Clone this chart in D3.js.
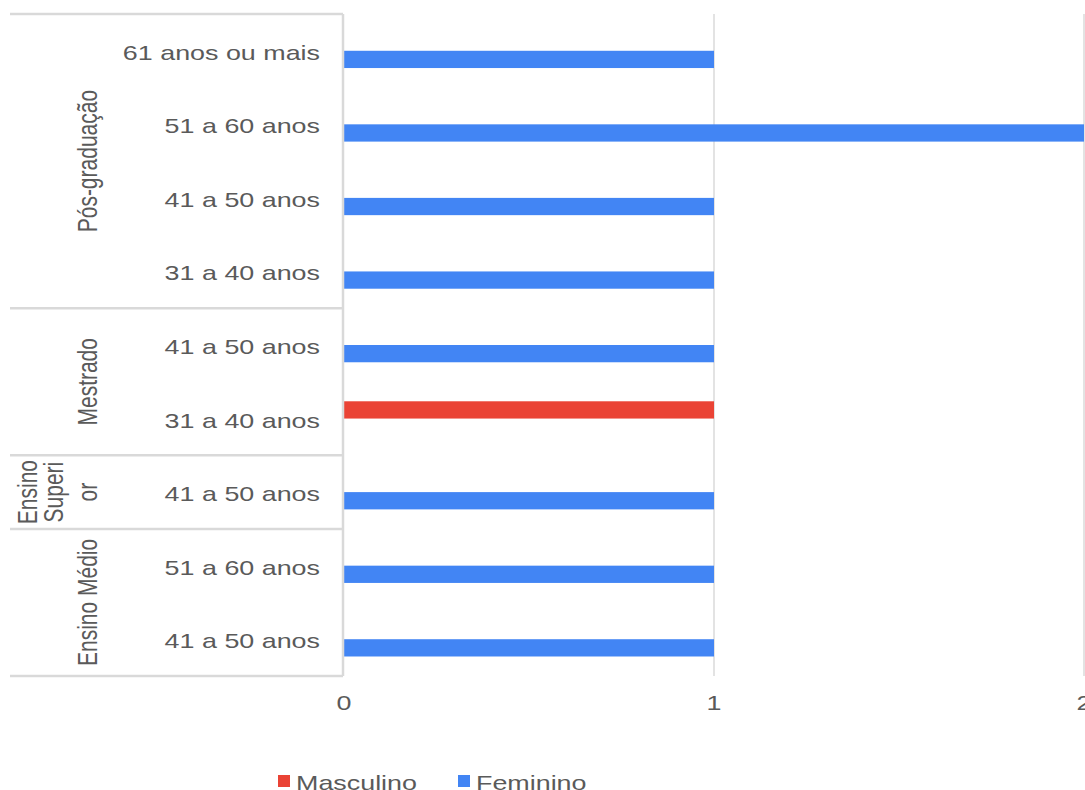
<!DOCTYPE html>
<html>
<head>
<meta charset="utf-8">
<script src="https://cdn.jsdelivr.net/npm/d3@7"></script>
<style>
body{margin:0;background:#fff;}
text{font-family:Arial,"Liberation Sans",sans-serif;fill:#5a5a5a;}
</style>
</head>
<body>
<div class="box"></div>
<script>
// data
const series=['Masculino','Feminino'];
const colors=['#ea4335','#4285f4'];
const groups=['Pós-graduação','Mestrado','Ensino Superior','Ensino Médio'];
const groupOf=['Pós-graduação','Pós-graduação','Pós-graduação','Pós-graduação','Mestrado','Mestrado','Ensino Superior','Ensino Médio','Ensino Médio'];
const ageLabels=['61 anos ou mais','51 a 60 anos','41 a 50 anos','31 a 40 anos','41 a 50 anos','31 a 40 anos','41 a 50 anos','51 a 60 anos','41 a 50 anos'];
const masculino=[0,0,0,0,0,1,0,0,0];
const feminino=[1,2,1,1,1,0,1,1,1];
const xTicks=[0,1,2];
const groupLines={'Ensino Superior':['Ensino','Superi','or']};

const W=1085,H=790;
const SX=1.28; // the picture is stretched sideways
const svg=d3.select('.box').append('svg').attr('width',W).attr('height',H);

const pTop=14,pBottom=676,pLeft=344,pRight=1084;
const rows=d3.range(ageLabels.length);
const y=d3.scaleBand().domain(rows).range([pTop,pBottom]);
const inner=d3.scaleBand().domain(series).range([0,y.bandwidth()]).paddingOuter(1.13);
const x=d3.scaleLinear().domain([0,2]).range([pLeft,pRight]);

// grid
svg.append('g').selectAll('line').data(xTicks.filter(t=>t>0)).enter().append('line')
  .attr('x1',d=>x(d)).attr('x2',d=>x(d)).attr('y1',pTop).attr('y2',pBottom)
  .attr('stroke','#e3e3e3').attr('stroke-width',2);

// bars
const data=[];
rows.forEach(i=>{
  data.push({row:i,s:'Masculino',v:masculino[i],c:colors[0]});
  data.push({row:i,s:'Feminino',v:feminino[i],c:colors[1]});
});
svg.append('g').selectAll('rect').data(data.filter(d=>d.v>0)).enter().append('rect')
  .attr('x',x(0))
  .attr('y',d=>y(d.row)+inner(d.s))
  .attr('width',d=>x(d.v)-x(0))
  .attr('height',inner.bandwidth())
  .attr('fill',d=>d.c);

// axis line and group separators
const ax=svg.append('g').attr('stroke','#d9d9d9').attr('stroke-width',2.5);
ax.append('line').attr('x1',pLeft-1).attr('x2',pLeft-1).attr('y1',pTop).attr('y2',pBottom);
const bounds=[0];
groups.forEach(g=>bounds.push(bounds[bounds.length-1]+groupOf.filter(d=>d===g).length));
ax.selectAll('.sep').data(bounds).enter().append('line')
  .attr('x1',10).attr('x2',pLeft-1)
  .attr('y1',d=>d<rows.length?y(d):pBottom).attr('y2',d=>d<rows.length?y(d):pBottom);

// category labels
svg.append('g').selectAll('text').data(rows).enter().append('text')
  .attr('transform',d=>`translate(320,${y(d)+y.bandwidth()/2+9}) scale(${SX},1)`)
  .attr('text-anchor','end').style('font-size','21px')
  .text(d=>ageLabels[d]);

// group labels
groups.forEach((g,k)=>{
  const c=(y(bounds[k])+(bounds[k+1]<rows.length?y(bounds[k+1]):pBottom))/2;
  const lines=groupLines[g]||[g];
  const xs=lines.length>1?[37,63,97]:[97];
  lines.forEach((t,j)=>{
    svg.append('text')
      .attr('transform',`translate(${xs[j]},${c}) scale(${SX},1) rotate(-90)`)
      .attr('text-anchor','middle').style('font-size','21px')
      .text(t);
  });
});

// x tick labels
svg.append('g').selectAll('text').data(xTicks).enter().append('text')
  .attr('transform',d=>`translate(${x(d)},710) scale(${SX},1)`)
  .attr('text-anchor','middle').style('font-size','21px')
  .text(d=>d);

// legend
const legX=[278,458];
const leg=svg.append('g').selectAll('g').data(series).enter().append('g');
leg.append('rect').attr('x',(d,i)=>legX[i]).attr('y',775).attr('width',12).attr('height',12)
  .attr('fill',(d,i)=>colors[i]);
leg.append('text')
  .attr('transform',(d,i)=>`translate(${legX[i]+18},790) scale(${SX},1)`)
  .style('font-size','21px').text(d=>d);
</script>
</body>
</html>
